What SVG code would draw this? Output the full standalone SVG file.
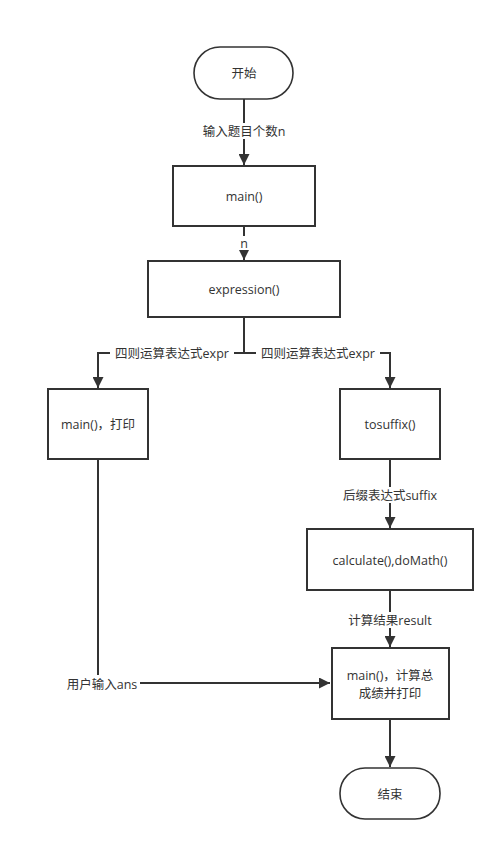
<svg xmlns="http://www.w3.org/2000/svg" width="504" height="851" viewBox="0 0 504 851">
<style>
.box{fill:#fff;stroke:#333;stroke-width:2}
.term{fill:#fff;stroke:#333;stroke-width:1.6}
.edge{fill:none;stroke:#333;stroke-width:2}
text{font-family:"Open Sans","Noto Sans CJK SC",sans-serif;font-size:12.5px;fill:#333;text-anchor:middle;dominant-baseline:central}
.lbg{fill:#fff}
</style>
<defs>
<marker id="ah" viewBox="0 0 10 10" refX="10" refY="5" markerWidth="6" markerHeight="5.5" markerUnits="strokeWidth" orient="auto">
<path d="M0,0 L10,5 L0,10 Z" fill="#333"/>
</marker>
</defs>
<rect width="504" height="851" fill="#fff"/>
<g id="connectors">
<path class="edge" d="M244,99 V165" marker-end="url(#ah)"/>
<path class="edge" d="M244,226 V260" marker-end="url(#ah)"/>
<path class="edge" d="M244,317 V353 H98 V388" marker-end="url(#ah)"/>
<path class="edge" d="M244,353 H390 V388" marker-end="url(#ah)"/>
<path class="edge" d="M98,459 V683 H330" marker-end="url(#ah)"/>
<path class="edge" d="M390,459 V528" marker-end="url(#ah)"/>
<path class="edge" d="M390,590 V647" marker-end="url(#ah)"/>
<path class="edge" d="M390,719 V767" marker-end="url(#ah)"/>
<rect class="lbg" x="198" y="123" width="92" height="16"/>
<text x="244" y="131">输入题目个数n</text>
<rect class="lbg" x="238" y="236" width="12" height="14"/>
<text x="244" y="243">n</text>
<rect class="lbg" x="110" y="345" width="124" height="16"/>
<text x="172" y="353">四则运算表达式expr</text>
<rect class="lbg" x="256" y="345" width="124" height="16"/>
<text x="318" y="353">四则运算表达式expr</text>
<rect class="lbg" x="338" y="487" width="104" height="16"/>
<text x="390" y="495">后缀表达式suffix</text>
<rect class="lbg" x="344" y="612" width="92" height="16"/>
<text x="390" y="620">计算结果result</text>
<rect class="lbg" x="64" y="675" width="76" height="16"/>
<text x="102" y="684">用户输入ans</text>
</g>
<g id="start"><rect class="term" x="194" y="47" width="99" height="52" rx="26" ry="26"/><text x="244" y="73">开始</text></g>
<g id="main1"><rect class="box" x="173" y="166" width="142" height="60"/><text x="244" y="196">main()</text></g>
<g id="expression"><rect class="box" x="148" y="261" width="192" height="56"/><text x="244" y="289">expression()</text></g>
<g id="mainPrint"><rect class="box" x="48" y="389" width="100" height="70"/><text x="98" y="424">main()，打印</text></g>
<g id="tosuffix"><rect class="box" x="340" y="389" width="100" height="70"/><text x="390" y="424">tosuffix()</text></g>
<g id="calculate"><rect class="box" x="307" y="529" width="166" height="61"/><text x="390" y="560">calculate(),doMath()</text></g>
<g id="mainTotal"><rect class="box" x="332" y="648" width="117" height="71"/><text x="390" y="675">main()，计算总</text><text x="390" y="693">成绩并打印</text></g>
<g id="end"><rect class="term" x="340" y="768" width="100" height="51" rx="25" ry="25"/><text x="390" y="794">结束</text></g>
</svg>
